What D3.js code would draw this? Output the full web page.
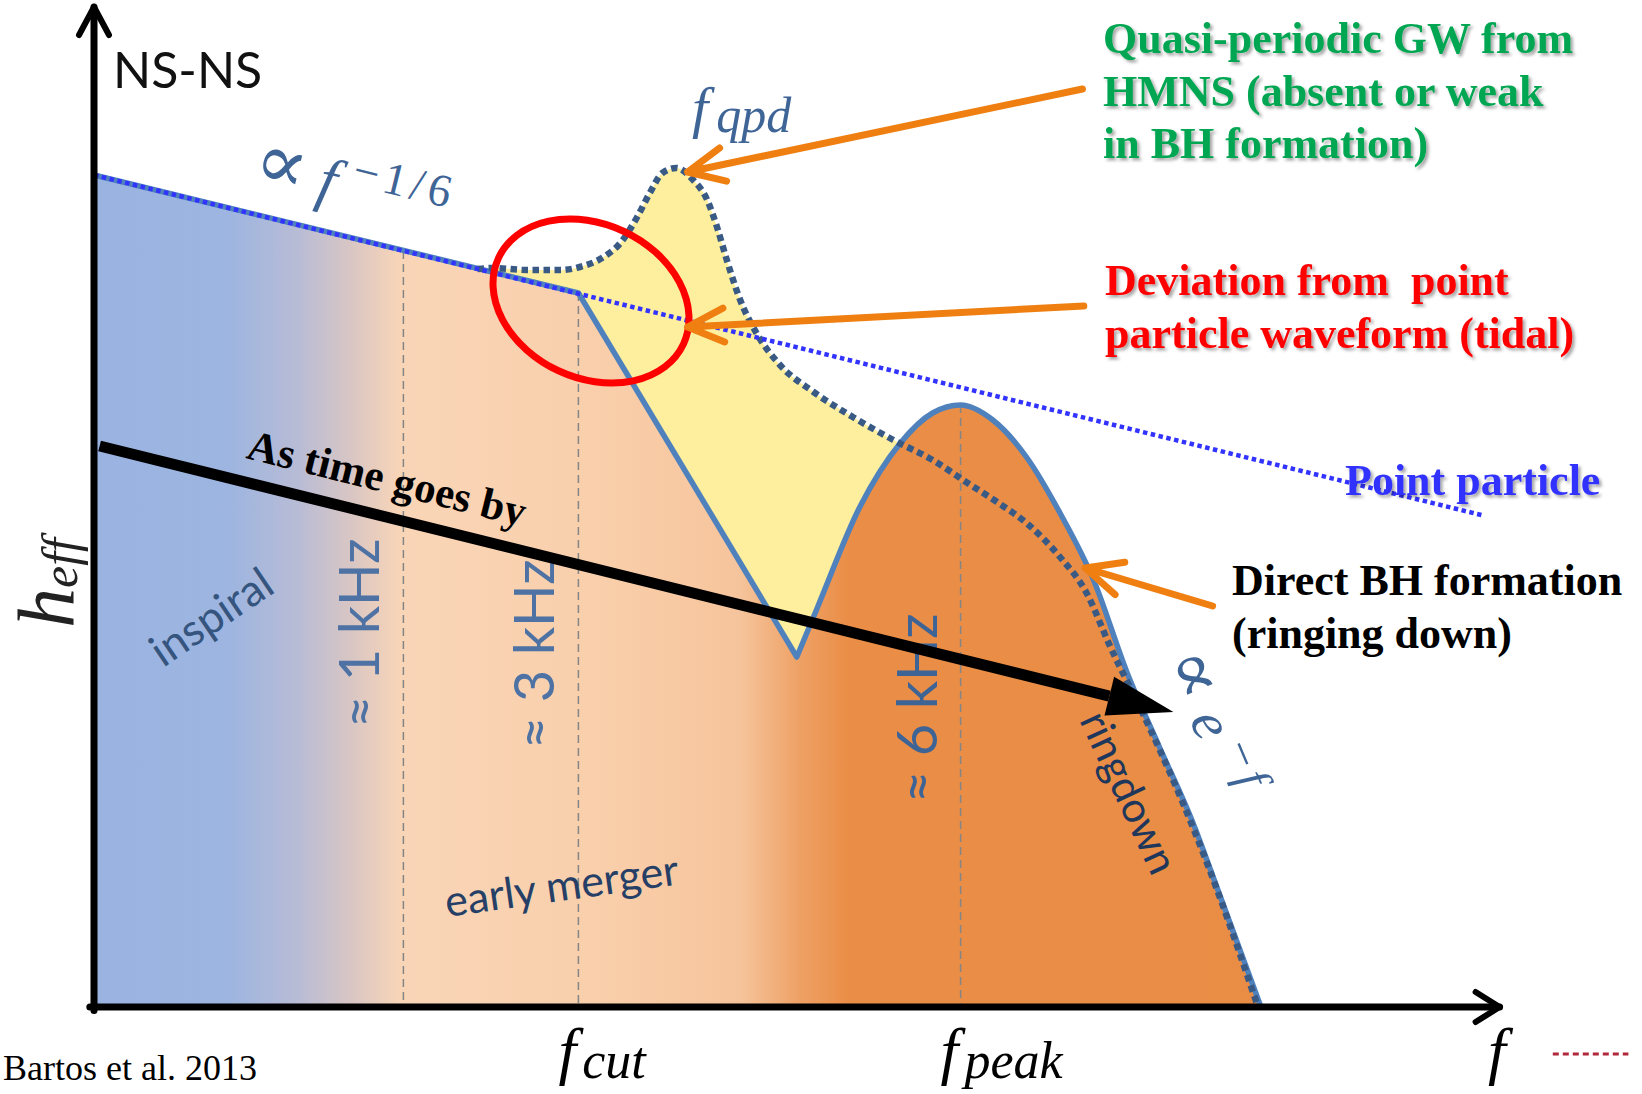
<!DOCTYPE html>
<html><head><meta charset="utf-8">
<script src="https://cdn.jsdelivr.net/npm/d3@7"></script>
<style>
html,body{margin:0;padding:0;background:#fff;overflow:hidden}
svg{display:block}
text{white-space:pre}
</style></head><body>
<svg id="chart" width="1642" height="1094"></svg>
<script>
// Schematic NS-NS merger spectrum: frequency f and effective strain h_eff,
// both on arbitrary 0–100 scales.

// point-particle (inspiral) power law ∝ f^-1/6
const pointParticle = [[0, 83.2], [99.1, 49.2]];
// direct BH formation: inspiral, cut-off and drop to the minimum (straight segments)
const inspiralCut = [[0, 83.2], [34.6, 71.4], [50.2, 35.0]];
// direct BH formation: ringing-down peak
const ringdownPeak = [[50.2, 35.0], [51.6, 39.7], [54.7, 50.0], [57.6, 56.4], [59.9, 59.4],
  [61.9, 60.2], [64.2, 58.7], [66.6, 55.0], [69.0, 49.4], [71.4, 42.7], [73.8, 33.4],
  [76.1, 26.0], [78.5, 18.4], [80.2, 12.0], [83.3, 0.2]];
// quasi-periodic HMNS spectrum
const hmns = [[27.4, 73.8], [28.5, 73.9], [30.9, 73.7], [33.3, 73.7], [34.7, 74.0], [36.4, 75.0],
  [37.6, 76.4], [38.8, 79.0], [39.7, 81.4], [40.6, 83.4], [41.6, 83.9], [42.8, 82.7], [43.8, 80.7],
  [44.5, 78.0], [45.2, 74.7], [46.1, 70.9], [47.4, 67.2], [49.0, 64.2], [51.4, 61.5], [54.2, 59.0],
  [57.1, 56.7], [59.9, 54.7], [62.4, 52.4], [64.5, 50.5], [66.6, 48.4], [69.0, 45.0], [70.9, 41.4],
  [72.6, 36.0], [74.9, 29.4], [77.6, 21.0], [79.5, 14.4], [83.1, 0.2]];

// characteristic frequencies (vertical guides) and where they meet the curve
const guideF = [22.1, 34.6, 61.9];
const guideTop = [75.6, 71.4, 60.2];
const guideLabels = ["≈ 1 kHz", "≈ 3 kHz", "≈ 6 kHz"];
const axisLabels = [["f", "cut"], ["f", "peak"], ["f", ""]];
const axisLabelF = [34.6, 61.9, 101.0];

// annotation arrows [tail, tip]
const timeArrow = [[0.4, 56.1], [77.1, 29.5]];
const calloutArrows = [
  [[70.6, 91.8], [42.4, 83.5]],
  [[70.7, 70.1], [42.4, 68.0]],
  [[79.9, 40.1], [70.8, 43.9]]
];
const tidalRegion = [35.5, 70.6];

const greenNote = ["Quasi-periodic GW from", "HMNS (absent or weak", "in BH formation)"];
const redNote = ["Deviation from  point", "particle waveform (tidal)"];
const blackNote = ["Direct BH formation", "(ringing down)"];

const svg = d3.select("#chart");
const x = d3.scaleLinear().domain([0, 100]).range([94, 1494]);
const y = d3.scaleLinear().domain([0, 100]).range([1007, 7]);

const SERIF = "'Liberation Serif','Times New Roman',serif";
const SANS = "Lato,'Open Sans',sans-serif";
const MATHBLUE = "#3f6597";

const defs = svg.append("defs");
const grad = defs.append("linearGradient").attr("id", "phaseFill")
  .attr("gradientUnits", "userSpaceOnUse")
  .attr("x1", x(0)).attr("x2", x(100)).attr("y1", 0).attr("y2", 0);
[[0, "#9ab3e1"], [0.097, "#9db5e0"], [0.147, "#b9bcd5"], [0.183, "#d8c6c4"], [0.219, "#f9d5b7"],
 [0.361, "#f9cfab"], [0.461, "#f6c49c"], [0.504, "#eea165"], [0.54, "#ea8d46"], [1, "#e98c44"]]
  .forEach(([o, c]) => grad.append("stop").attr("offset", o).attr("stop-color", c));

const shadow = defs.append("filter").attr("id", "shadow")
  .attr("x", "-5%").attr("y", "-20%").attr("width", "115%").attr("height", "150%");
shadow.append("feDropShadow").attr("dx", 2.5).attr("dy", 2.5).attr("stdDeviation", 1.6)
  .attr("flood-color", "#000").attr("flood-opacity", 0.35);

const px = d => x(d[0]), py = d => y(d[1]);

// HMNS excess region
svg.append("path")
  .attr("d", d3.area().x(px).y0(y(0)).y1(py).curve(d3.curveMonotoneX)(hmns))
  .attr("fill", "#feef9f");

// direct-BH spectrum: straight inspiral/cut part + smooth ringdown peak
const linPart = d3.line().x(px).y(py)(inspiralCut);
const peakPart = d3.line().x(px).y(py).curve(d3.curveMonotoneX)(ringdownPeak);
const solidPath = linPart + peakPart.replace(/^M/, "L");
const last = ringdownPeak[ringdownPeak.length - 1];
svg.append("path")
  .attr("d", `M${x(0)},${y(0)}L` + solidPath.slice(1) + `L${x(last[0])},${y(0)}Z`)
  .attr("fill", "url(#phaseFill)");

// vertical guides
svg.append("g").selectAll("line").data(guideF).join("line")
  .attr("x1", d => x(d)).attr("x2", d => x(d))
  .attr("y1", (d, i) => y(guideTop[i])).attr("y2", y(0))
  .attr("stroke", "#858585").attr("stroke-width", 1.5).attr("stroke-dasharray", "8,5");

// phase labels inside the filled region
const guideColors = ["#4d72a3", "#4d72a3", "#3e6496"];
svg.append("g").selectAll("text").data(guideLabels).join("text")
  .attr("transform", (d, i) => `translate(${x(guideF[i]) - 24},${[728, 749, 803][i]}) rotate(-90)`)
  .attr("font-family", SANS).attr("font-size", 56).attr("fill", (d, i) => guideColors[i])
  .text(d => d);

svg.append("text").attr("transform", "translate(163,668) rotate(-34)")
  .attr("font-family", SANS).attr("font-size", 44).attr("fill", "#35557f").text("inspiral");
svg.append("text").attr("transform", "translate(447,917) rotate(-8)")
  .attr("font-family", SANS).attr("font-size", 43).attr("fill", "#263f66").text("early merger");
svg.append("text").attr("transform", "translate(1079,720) rotate(65)")
  .attr("font-family", SANS).attr("font-size", 42).attr("fill", "#20375c").text("ringdown");

// spectrum outline
svg.append("path").attr("d", solidPath).attr("fill", "none")
  .attr("stroke", "#4f81bd").attr("stroke-width", 5.5).attr("stroke-linejoin", "round");
svg.append("path")
  .attr("d", d3.line().x(px).y(py).curve(d3.curveMonotoneX)(hmns))
  .attr("fill", "none").attr("stroke", "#395a84").attr("stroke-width", 6.5)
  .attr("stroke-dasharray", "6.5,4.5");
svg.append("path").attr("d", d3.line().x(px).y(py)(pointParticle))
  .attr("fill", "none").attr("stroke", "#3333ff").attr("stroke-width", 4.5)
  .attr("stroke-dasharray", "4.5,3.5");

// axes
const axes = svg.append("g").attr("stroke", "#000").attr("fill", "none")
  .attr("stroke-linecap", "round").attr("stroke-linejoin", "round");
axes.append("path").attr("d", `M${x(0)},${y(-0.35)}L${x(0)},${y(100)}`).attr("stroke-width", 7);
axes.append("path").attr("d", `M${x(0) - 15},${y(100) + 28}L${x(0)},${y(100)}L${x(0) + 15},${y(100) + 28}`)
  .attr("stroke-width", 6);
axes.append("path").attr("d", `M${x(-0.3)},${y(0)}L${x(100.4)},${y(0)}`).attr("stroke-width", 7);
axes.append("path").attr("d", `M${x(100.4) - 24},${y(0) - 15}L${x(100.4)},${y(0)}L${x(100.4) - 24},${y(0) + 15}`)
  .attr("stroke-width", 6);

// "as time goes by" arrow
{
  const [t0, t1] = timeArrow;
  const x1 = px(t0), y1 = py(t0), x2 = px(t1), y2 = py(t1);
  const a = Math.atan2(y2 - y1, x2 - x1), L = 66, hw = 20;
  const bx = x2 - L * Math.cos(a), by = y2 - L * Math.sin(a);
  svg.append("line").attr("x1", x1).attr("y1", y1).attr("x2", bx).attr("y2", by)
    .attr("stroke", "#000").attr("stroke-width", 11);
  svg.append("path")
    .attr("d", `M${x2},${y2}L${bx - hw * Math.sin(a)},${by + hw * Math.cos(a)}L${bx + hw * Math.sin(a)},${by - hw * Math.cos(a)}Z`)
    .attr("fill", "#000");
  svg.append("text").attr("transform", `translate(245,458) rotate(${a * 180 / Math.PI})`)
    .attr("font-family", SERIF).attr("font-weight", "bold").attr("font-size", 43)
    .attr("fill", "#000").text("As time goes by");
}

// tidal deviation marker
svg.append("ellipse").attr("cx", x(tidalRegion[0])).attr("cy", y(tidalRegion[1]))
  .attr("rx", 102).attr("ry", 77)
  .attr("transform", `rotate(25,${x(tidalRegion[0])},${y(tidalRegion[1])})`)
  .attr("fill", "none").attr("stroke", "#ff0000").attr("stroke-width", 7);

// callout arrows
calloutArrows.forEach(([tail, tip]) => {
  const x1 = px(tail), y1 = py(tail), x2 = px(tip), y2 = py(tip);
  const a = Math.atan2(y1 - y2, x1 - x2), L = 40, s = 25 * Math.PI / 180;
  const w1 = [x2 + L * Math.cos(a - s), y2 + L * Math.sin(a - s)];
  const w2 = [x2 + L * Math.cos(a + s), y2 + L * Math.sin(a + s)];
  svg.append("path")
    .attr("d", `M${x1},${y1}L${x2},${y2}M${w1}L${x2},${y2}L${w2}`)
    .attr("fill", "none").attr("stroke", "#ef7f11").attr("stroke-width", 7)
    .attr("stroke-linecap", "round").attr("stroke-linejoin", "round");
});

// title and axis titles
svg.append("text").attr("x", 113).attr("y", 88).attr("font-family", SANS)
  .attr("font-size", 50).attr("fill", "#111").text("NS-NS");

const hlab = svg.append("text").attr("transform", "translate(73,628) rotate(-90)")
  .attr("font-family", SERIF).attr("font-style", "italic").attr("fill", "#222");
hlab.append("tspan").attr("font-size", 80).text("h");
hlab.append("tspan").attr("font-size", 50).attr("dy", 4).text("eff");

axisLabels.forEach(([main, sub], i) => {
  const t = svg.append("text").attr("x", x(axisLabelF[i]) - 20).attr("y", 1072)
    .attr("font-family", SERIF).attr("font-style", "italic").attr("fill", "#000");
  t.append("tspan").attr("font-size", 64).text(main);
  if (sub) t.append("tspan").attr("font-size", 52).attr("dx", 6).attr("dy", 6).text(sub);
});

// slope labels
{
  const t = svg.append("text").attr("transform", "translate(250,182) rotate(13.8)")
    .attr("font-family", SERIF).attr("fill", MATHBLUE);
  t.append("tspan").attr("font-size", 78).attr("font-family", "'DejaVu Serif',serif").text("∝");
  t.append("tspan").attr("font-size", 62).attr("font-style", "italic").attr("dx", 14).text("f");
  t.append("tspan").attr("font-size", 46).attr("dy", -22).attr("dx", 14)
    .attr("letter-spacing", 5).text("−1/6");
}
{
  const t = svg.append("text").attr("x", 692).attr("y", 127)
    .attr("font-family", SERIF).attr("font-style", "italic").attr("fill", MATHBLUE);
  t.append("tspan").attr("font-size", 58).text("f");
  t.append("tspan").attr("font-size", 50).attr("dx", 8).attr("dy", 5).text("qpd");
}
{
  const t = svg.append("text").attr("transform", "translate(1164,660) rotate(67)")
    .attr("font-family", SERIF).attr("fill", MATHBLUE);
  t.append("tspan").attr("font-size", 72).attr("font-family", "'DejaVu Serif',serif").text("∝");
  t.append("tspan").attr("font-size", 58).attr("font-style", "italic").attr("dx", 16).text("e");
  t.append("tspan").attr("font-size", 48).attr("font-style", "italic").attr("dx", 10).attr("dy", -20)
    .attr("letter-spacing", 4).text("−f");
}

// notes
function note(lines, x0, y0, color, useShadow) {
  const g = svg.append("g");
  if (useShadow) g.attr("filter", "url(#shadow)");
  g.selectAll("text").data(lines).join("text")
    .attr("x", x0).attr("y", (d, i) => y0 + i * 52.5)
    .attr("font-family", SERIF).attr("font-weight", "bold").attr("font-size", 44)
    .attr("fill", color).text(d => d);
}
note(greenNote, 1103, 53, "#00a651", true);
note(redNote, 1105, 295, "#ff0000", true);
note(["Point particle"], 1345, 495, "#3333ff", true);
note(blackNote, 1232, 595, "#000", false);

// citation and slide decoration
svg.append("text").attr("x", 3).attr("y", 1080).attr("font-family", SERIF)
  .attr("font-size", 36).attr("fill", "#000").text("Bartos et al. 2013");
svg.append("line").attr("x1", x(104.2)).attr("x2", x(109.6)).attr("y1", y(-4.7)).attr("y2", y(-4.7))
  .attr("stroke", "#b0283a").attr("stroke-width", 3).attr("stroke-dasharray", "6,4");
</script>
</body></html>
